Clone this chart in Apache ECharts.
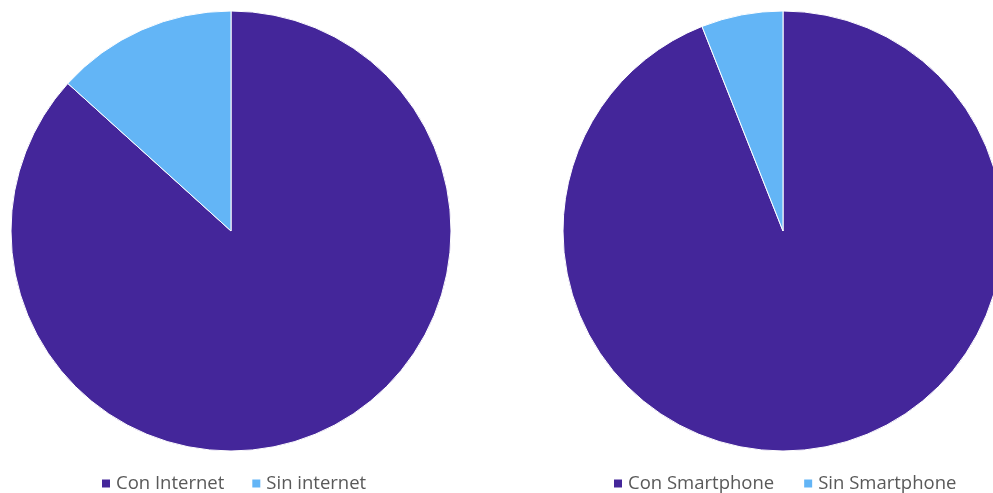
<!DOCTYPE html>
<html>
<head>
<meta charset="utf-8">
<script src="https://cdn.jsdelivr.net/npm/echarts@6/dist/echarts.min.js"></script>
<style>
  html, body { margin: 0; padding: 0; background: #fff; }
  #chart { width: 993px; height: 493px; }
</style>
</head>
<body>
<div id="chart"></div>
<script>
// Internet access
const internetLabels = ['Con Internet', 'Sin internet'];
const internetValues = [86.7, 13.3];
// Smartphone ownership
const phoneLabels = ['Con Smartphone', 'Sin Smartphone'];
const phoneValues = [94, 6];

const colors = ['#44269A', '#63B5F6'];

const chart = echarts.init(document.getElementById('chart'));

function pieSeries(labels, values, center) {
  return {
    type: 'pie',
    center: center,
    radius: 220,
    startAngle: 90,
    clockwise: true,
    label: { show: false },
    labelLine: { show: false },
    emphasis: { disabled: true },
    itemStyle: { borderColor: '#ffffff', borderWidth: 1 },
    data: labels.map((name, i) => ({ name, value: values[i], itemStyle: { color: colors[i] } }))
  };
}

const legendText = { fontFamily: 'Open Sans, Noto Sans, sans-serif', fontSize: 18.5, color: '#595959' };

chart.setOption({
  animation: false,
  color: colors,
  legend: [
    {
      data: internetLabels,
      left: 95, top: 469,
      icon: 'rect', itemWidth: 10, itemHeight: 10, itemGap: 26,
      textStyle: legendText
    },
    {
      data: phoneLabels,
      left: 607, top: 469,
      icon: 'rect', itemWidth: 10, itemHeight: 10, itemGap: 28,
      textStyle: legendText
    }
  ],
  series: [
    pieSeries(internetLabels, internetValues, [231, 231]),
    pieSeries(phoneLabels, phoneValues, [783, 231])
  ]
});
</script>
</body>
</html>
